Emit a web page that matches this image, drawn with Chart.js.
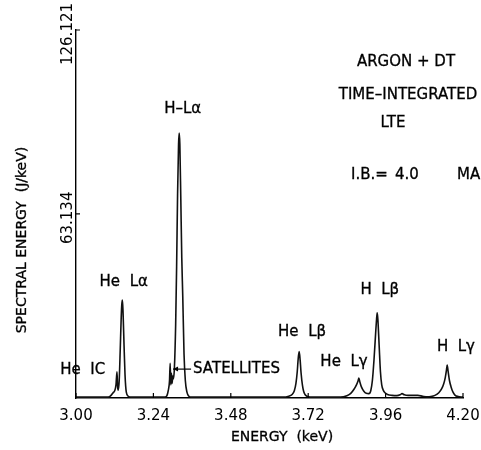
<!DOCTYPE html>
<html>
<head>
<meta charset="utf-8">
<script src="https://cdn.jsdelivr.net/npm/chart.js@4.4.1/dist/chart.umd.min.js"></script>
<style>
  html, body { margin: 0; padding: 0; background: #fff; }
  canvas { display: block; }
</style>
</head>
<body>
<canvas id="spectrum" width="481" height="450"></canvas>
<script>
// photon energy (keV) and spectral energy (J/keV)
const energy = [
  3.000, 3.100, 3.108, 3.115, 3.120, 3.124, 3.127, 3.129, 3.131, 3.134,
  3.137, 3.140, 3.142, 3.144, 3.146, 3.149, 3.152, 3.156, 3.162, 3.172,
  3.276, 3.282, 3.286, 3.290, 3.292, 3.294, 3.296, 3.298, 3.300, 3.302,
  3.305, 3.309, 3.312, 3.315, 3.318, 3.320, 3.322, 3.325, 3.328, 3.331,
  3.335, 3.339, 3.344, 3.350, 3.358,
  3.640, 3.660, 3.670, 3.677, 3.682, 3.686, 3.689, 3.692, 3.695, 3.698,
  3.702, 3.706, 3.710, 3.716, 3.726,
  3.820, 3.840, 3.852, 3.862, 3.870, 3.875, 3.877, 3.880, 3.885, 3.892,
  3.900, 3.908, 3.914, 3.919, 3.924, 3.929, 3.932, 3.934, 3.936, 3.940,
  3.944, 3.948, 3.953, 3.958, 3.966, 3.980, 3.995, 4.005, 4.011, 4.018,
  4.030, 4.045, 4.060, 4.075, 4.090,
  4.100, 4.113, 4.125, 4.134, 4.140, 4.145, 4.149, 4.151, 4.154, 4.158,
  4.163, 4.169, 4.175, 4.185, 4.200
];
const intensity = [
  0.3, 0.3, 0.8, 1.8, 2.5, 4.5, 9.0, 4.0, 2.7, 6.0,
  16, 27, 32, 33.6, 29, 18, 8, 2, 0.6, 0.3,
  0.3, 0.8, 2.5, 6, 11.9, 4.5, 8.5, 5, 7.5, 6.5,
  10, 25, 45, 70, 87, 90.8, 87, 68, 48, 35,
  15, 6, 2, 0.6, 0.3,
  0.3, 0.6, 1.2, 2.5, 5, 9, 13.5, 15.9, 13, 8.5,
  4.5, 2.2, 1.2, 0.6, 0.3,
  0.3, 0.8, 1.6, 3.0, 4.6, 6.0, 6.8, 5.6, 3.8, 2.4,
  1.6, 1.5, 2.5, 6, 13, 22, 27, 29.2, 27, 18,
  9, 4.5, 2.6, 1.8, 1.2, 0.9, 0.8, 1.1, 1.5, 1.1,
  0.9, 0.9, 0.9, 0.6, 0.4,
  0.5, 0.9, 1.8, 3.2, 4.8, 7, 9.8, 11.3, 9, 6,
  3.8, 2.0, 1.0, 0.5, 0.3
];

const xTicks = [3.00, 3.24, 3.48, 3.72, 3.96, 4.20];
const yTicks = [63.134, 126.121];

// line identifications: text, energy, intensity of the label centre
const lineNames = ['He  IC', 'He  L\u03b1', 'H\u2013L\u03b1', 'He  L\u03b2', 'He  L\u03b3', 'H  L\u03b2', 'H  L\u03b3'];
const lineNameE = [3.021, 3.148, 3.331, 3.701, 3.831, 3.942, 4.178];
const lineNameI = [9.6, 39.8, 99.0, 22.6, 12.4, 37.0, 17.6];

const notes = ['ARGON + DT', 'TIME\u2013INTEGRATED', 'LTE'];

const FONT = '"DejaVu Sans", sans-serif';

// plotter lettering is a bit heavier than the screen font
function label(ctx, text, x, y) {
  ctx.fillText(text, x, y);
  ctx.strokeText(text, x, y);
}

const decorations = {
  id: 'decorations',
  afterDraw(chart) {
    const ctx = chart.ctx;
    const xs = chart.scales.x, ys = chart.scales.y;
    const area = chart.chartArea;
    ctx.save();
    ctx.strokeStyle = '#000';
    ctx.fillStyle = '#000';
    ctx.lineWidth = 1.2;

    // inward tick marks
    ctx.beginPath();
    xTicks.forEach(v => {
      const px = xs.getPixelForValue(v);
      ctx.moveTo(px, area.bottom);
      ctx.lineTo(px, area.bottom - 5);
    });
    yTicks.forEach(v => {
      const py = ys.getPixelForValue(v);
      ctx.moveTo(area.left, py);
      ctx.lineTo(area.left + 4, py);
    });
    ctx.stroke();

    // satellites arrow
    const tipX = xs.getPixelForValue(3.301), tipY = ys.getPixelForValue(9.9);
    ctx.beginPath();
    ctx.moveTo(tipX, tipY);
    ctx.lineTo(tipX + 18, tipY);
    ctx.stroke();
    ctx.beginPath();
    ctx.moveTo(tipX, tipY);
    ctx.lineTo(tipX + 5, tipY - 2.5);
    ctx.lineTo(tipX + 5, tipY + 2.5);
    ctx.closePath();
    ctx.fill();

    ctx.lineWidth = 0.3;

    // rotated y tick labels
    ctx.font = '15px ' + FONT;
    ctx.textAlign = 'center';
    ctx.textBaseline = 'middle';
    yTicks.forEach(v => {
      const py = ys.getPixelForValue(v);
      ctx.save();
      ctx.translate(area.left - 8, py + 4);
      ctx.rotate(-Math.PI / 2);
      ctx.fillText(v.toFixed(3), 0, 0);
      ctx.restore();
    });

    // axis titles
    ctx.font = '14px ' + FONT;
    label(ctx, 'ENERGY  (keV)', 282, 437);
    ctx.save();
    ctx.translate(22, 240);
    ctx.rotate(-Math.PI / 2);
    label(ctx, 'SPECTRAL ENERGY  (J/keV)', 0, 0);
    ctx.restore();

    // line identifications
    ctx.font = '15px ' + FONT;
    lineNames.forEach((t, i) => {
      label(ctx, t, xs.getPixelForValue(lineNameE[i]), ys.getPixelForValue(lineNameI[i]));
    });
    ctx.textAlign = 'left';
    label(ctx, 'SATELLITES', tipX + 20, tipY);

    // run description
    ctx.textAlign = 'center';
    label(ctx, notes[0], 406, 62);
    label(ctx, notes[1], 408, 95);
    label(ctx, notes[2], 393, 123);
    ctx.textAlign = 'left';
    label(ctx, 'I.B.=', 351, 175);
    label(ctx, '4.0', 395, 175);
    label(ctx, 'MA', 457, 175);

    ctx.restore();
  }
};

new Chart(document.getElementById('spectrum'), {
  type: 'line',
  data: {
    datasets: [{
      data: energy.map((e, i) => ({ x: e, y: intensity[i] })),
      borderColor: '#111',
      borderWidth: 1.6,
      pointRadius: 0,
      fill: false,
      cubicInterpolationMode: 'monotone'
    }]
  },
  options: {
    responsive: false,
    animation: false,
    events: [],
    layout: { padding: { top: 30, right: 18, left: 0, bottom: 0 } },
    plugins: { legend: { display: false }, tooltip: { enabled: false } },
    scales: {
      x: {
        type: 'linear',
        min: 3.0,
        max: 4.2,
        afterBuildTicks: s => { s.ticks = xTicks.map(v => ({ value: v })); },
        afterFit: s => { s.height = 52; },
        grid: { display: false },
        border: { color: '#000', width: 1.4 },
        ticks: {
          color: '#000',
          padding: 1,
          maxRotation: 0,
          autoSkip: false,
          font: { family: FONT, size: 15 },
          callback: v => v.toFixed(2)
        }
      },
      y: {
        type: 'linear',
        min: 0,
        max: 126.121,
        afterFit: s => { s.width = 76; },
        grid: { display: false },
        border: { color: '#000', width: 1.4 },
        ticks: { display: false }
      }
    }
  },
  plugins: [decorations]
});
</script>
</body>
</html>
